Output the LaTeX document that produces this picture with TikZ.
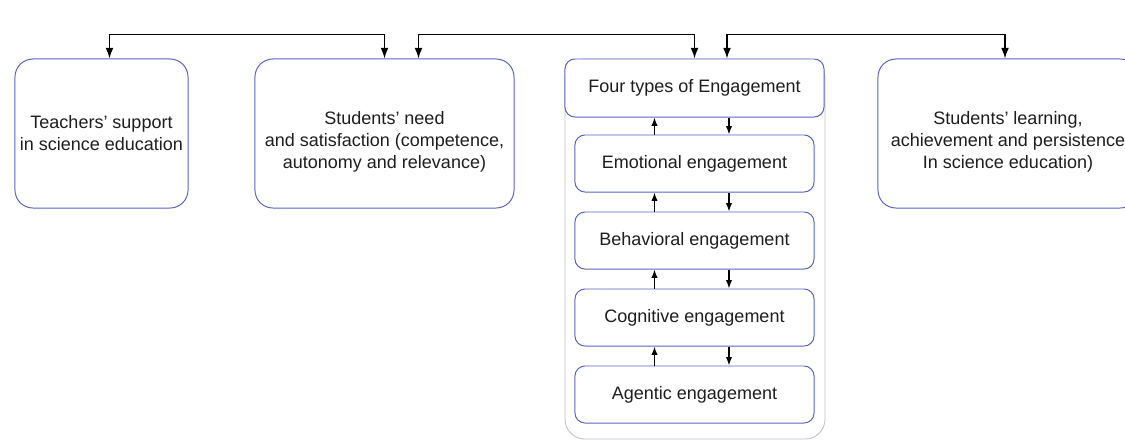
\documentclass[tikz,border=0pt]{standalone}
\usepackage{fontspec}
\setmainfont{Liberation Sans}
\usepackage{tikz}
\usetikzlibrary{positioning,calc,arrows.meta}

\definecolor{boxblue}{RGB}{88,100,196}
\definecolor{groupgray}{RGB}{190,192,206}
\definecolor{inkgray}{RGB}{30,30,30}

\begin{document}
\begin{tikzpicture}[x=0.025cm, y=-0.025cm,
every node/.style={font=\fontsize{12.8}{15.6}\selectfont, text=inkgray},
bigbox/.style={draw=boxblue, line width=0.7pt, rounded corners=0.45cm, align=center,
  minimum height=3.725cm, inner sep=0pt},
boxtext/.style={align=center, yshift=-0.2cm},
engbox/.style={draw=boxblue, line width=0.7pt, rounded corners=0.25cm, fill=white,
  minimum width=5.975cm, minimum height=1.425cm, inner sep=0pt},
group/.style={draw=groupgray, line width=0.6pt, rounded corners=0.5cm,
  minimum width=6.5cm, minimum height=9.5cm, inner sep=0pt},
link/.style={draw=black, line width=0.9pt, {Latex[length=7.5pt,width=5.5pt]}-{Latex[length=7.5pt,width=5.5pt]}},
uplink/.style={draw=black, line width=0.9pt, -{Latex[length=6pt,width=4.5pt]}}]

\useasboundingbox[fill=white] (0,0) rectangle (1125,441);

\node[bigbox, minimum width=4.325cm] (teach) at (101.5,133.5) {Teachers' support\\in science education};
\node[bigbox, minimum width=6.475cm,
  label={[boxtext]center:Students' need\\and satisfaction (competence,\\autonomy and relevance)}]
  (stud) at (384.5,133.5) {};
\node[bigbox, minimum width=6.5cm,
  label={[boxtext]center:Students' learning,\\achievement and persistence\\In science education)}]
  (learn) at (1008,133.5) {};

\node[group] (grp) at (695,249) {};
\node[engbox, minimum width=6.475cm, minimum height=1.45cm] (four) at (694.5,88) {Four types of Engagement};
\node[engbox] (emo) at (694.5,163.5) {Emotional engagement};
\node[engbox] (beh) at (694.5,240.5) {Behavioral engagement};
\node[engbox] (cog) at (694.5,317.5) {Cognitive engagement};
\node[engbox] (agen) at (694.5,394.5) {Agentic engagement};

% top connectors
\draw[link] ($(teach.north)+(8,0)$) -- ++(0,-24) -| (stud.north);
\draw[link] ($(stud.north)+(34,0)$) -- ++(0,-24) -| (four.north);
\draw[link] ($(four.north)+(32.5,0)$) -- ++(0,-24) -| ($(learn.north)+(-3,0)$);

% between the engagement boxes
\foreach \a/\b in {four/emo, emo/beh, beh/cog, cog/agen} {
  \draw[uplink] ($(\b.north)+(-40,0)$) -- ($(\a.south)+(-40,0)$);
  \draw[uplink] ($(\a.south)+(34.5,0)$) -- ($(\b.north)+(34.5,0)$);
}

\end{tikzpicture}
\end{document}
